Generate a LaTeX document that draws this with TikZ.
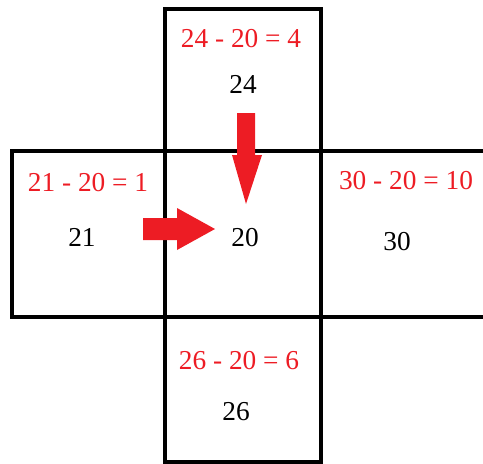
\documentclass[tikz,border=0pt]{standalone}
\usepackage{fontspec}
\setmainfont{Liberation Serif}
\definecolor{myred}{RGB}{237,28,36}
\begin{document}
\begin{tikzpicture}[x=0.75pt,y=-0.75pt,
  frame/.style={line width=2.3pt,draw=black},
  num/.style={font=\fontsize{20.5}{24}\selectfont,text=black,inner sep=0pt},
  eq/.style={font=\fontsize{20.5}{24}\selectfont,text=myred,inner sep=0pt},
  bigarrow/.style={fill=myred,draw=none}]
\useasboundingbox (0,0) rectangle (483,464);
% frames
\draw[frame] (165,9) rectangle (321,151);
\draw[frame] (12,151) rectangle (165,317);
\draw[frame] (165,151) rectangle (321,317);
\draw[frame] (165,317) rectangle (321,462);
\draw[frame] (321,151) -- (483,151);
\draw[frame] (321,317) -- (483,317);
% texts
\node[eq] (eqtop) at (241,39) {24 - 20 = 4};
\node[num] (ntop) at (243,84) {24};
\node[eq] (eqleft) at (88,183) {21 - 20 = 1};
\node[num] (nleft) at (82,237) {21};
\node[num] (ncenter) at (245,238) {20};
\node[eq] (eqright) at (406,181) {30 - 20 = 10};
\node[num] (nright) at (397,242) {30};
\node[eq] (eqbottom) at (239,361) {26 - 20 = 6};
\node[num] (nbottom) at (236,412) {26};
% arrows
\fill[bigarrow] (237,113) -- (255,113) -- (255,155) -- (262,155) -- (246,204) -- (232,155) -- (237,155) -- cycle;
\fill[bigarrow] (143,218) -- (177,218) -- (177,208) -- (215,229) -- (177,250) -- (177,240) -- (143,240) -- cycle;
\end{tikzpicture}
\end{document}
